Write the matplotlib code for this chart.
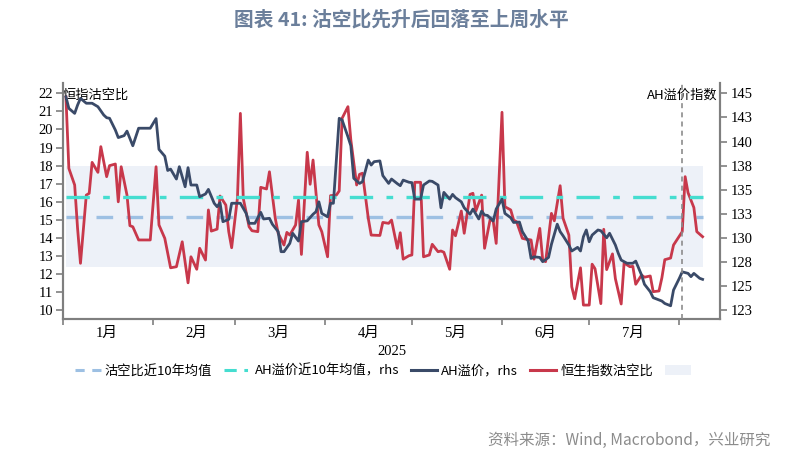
import numpy as np
import pandas as pd
import matplotlib
matplotlib.use("Agg")
import matplotlib.pyplot as plt
import matplotlib.dates as mdates
from matplotlib.lines import Line2D
from matplotlib.patches import Patch
from matplotlib.ticker import FixedLocator, FuncFormatter

plt.rcParams['font.family'] = ['Noto Sans CJK SC', 'DejaVu Sans']

# 恒生指数沽空比 (left axis)
ratio_dates = ["01-02", "01-03", "01-05", "01-06", "01-07", "01-09", "01-10", "01-11", "01-13", "01-14",
               "01-16", "01-17", "01-19", "01-20", "01-21", "01-23", "01-24", "01-25", "01-27", "01-31",
               "02-02", "02-03", "02-05", "02-07", "02-09", "02-11", "02-13", "02-14", "02-16", "02-17",
               "02-19", "02-20", "02-21", "02-23", "02-24", "02-26", "02-27", "02-28", "03-02", "03-03",
               "03-04", "03-06", "03-07", "03-09", "03-10", "03-12", "03-13", "03-15", "03-16", "03-18",
               "03-19", "03-20", "03-22", "03-23", "03-24", "03-26", "03-27", "03-28", "03-30", "03-31",
               "04-02", "04-03", "04-05", "04-06", "04-07", "04-09", "04-10", "04-12", "04-13", "04-14",
               "04-16", "04-17", "04-20", "04-21", "04-23", "04-24", "04-26", "04-27", "04-28", "04-30",
               "05-01", "05-02", "05-04", "05-05", "05-07", "05-08", "05-10", "05-11", "05-12", "05-14",
               "05-15", "05-16", "05-18", "05-19", "05-21", "05-22", "05-23", "05-25", "05-26", "05-28",
               "05-29", "05-30", "06-01", "06-02", "06-04", "06-05", "06-06", "06-08", "06-09", "06-11",
               "06-12", "06-14", "06-15", "06-16", "06-18", "06-19", "06-21", "06-22", "06-24", "06-25",
               "06-26", "06-28", "06-29", "07-01", "07-02", "07-03", "07-05", "07-06", "07-07", "07-09",
               "07-10", "07-12", "07-13", "07-15", "07-16", "07-17", "07-19", "07-20", "07-22", "07-23",
               "07-25", "07-26", "07-27", "07-29", "07-30", "08-01", "08-02", "08-03", "08-04", "08-06",
               "08-07", "08-09"]
short_ratio = [21.8, 17.85, 16.93, 14.53, 12.6, 16.37, 16.47, 18.18, 17.63, 19.05,
               17.39, 18.0, 18.09, 16.0, 17.94, 16.37, 14.68, 14.62, 13.89, 13.89,
               17.94, 14.72, 13.98, 12.35, 12.41, 13.79, 11.52, 12.96, 12.27, 13.43,
               12.78, 15.55, 14.38, 14.49, 16.32, 15.82, 14.35, 13.46, 16.23, 20.89,
               16.19, 14.62, 14.4, 14.35, 16.8, 16.71, 17.66, 15.09, 14.26, 13.61,
               14.31, 14.16, 14.72, 16.1, 13.09, 18.74, 16.97, 18.31, 14.72, 14.35,
               12.96, 16.34, 16.37, 16.6, 20.62, 21.26, 19.42, 16.93, 17.52, 17.58,
               15.09, 14.16, 14.14, 14.86, 14.81, 14.99, 13.43, 14.29, 12.83, 13.02,
               13.06, 17.08, 17.08, 12.96, 13.06, 13.65, 13.24, 13.28, 13.21, 12.27,
               14.44, 14.12, 15.49, 14.26, 16.41, 16.47, 15.49, 16.37, 13.43, 15.09,
               14.9, 13.7, 20.95, 15.73, 15.55, 14.99, 14.9, 13.98, 13.94, 13.89,
               12.83, 14.53, 12.78, 12.69, 15.36, 14.95, 16.89, 15.09, 14.16, 11.3,
               10.64, 12.35, 10.29, 10.29, 12.55, 12.3, 10.37, 14.48, 12.25, 13.12,
               11.75, 10.35, 12.62, 12.41, 12.43, 11.44, 11.95, 11.83, 11.9, 11.03,
               11.07, 11.8, 12.8, 12.89, 13.61, 14.1, 14.35, 17.39, 16.5, 15.68,
               14.35, 14.07]

# AH溢价指数 (right axis)
ah_dates = ["01-02", "01-03", "01-05", "01-06", "01-07", "01-09", "01-11", "01-13", "01-15", "01-16",
            "01-17", "01-19", "01-20", "01-22", "01-23", "01-25", "01-27", "01-31", "02-02", "02-03",
            "02-05", "02-06", "02-07", "02-09", "02-10", "02-12", "02-13", "02-14", "02-16", "02-17",
            "02-19", "02-20", "02-22", "02-23", "02-24", "02-25", "02-27", "02-28", "03-02", "03-03",
            "03-05", "03-06", "03-08", "03-10", "03-11", "03-13", "03-14", "03-16", "03-17", "03-18",
            "03-20", "03-21", "03-23", "03-24", "03-26", "03-28", "03-29", "03-30", "03-31", "04-02",
            "04-03", "04-04", "04-06", "04-07", "04-09", "04-10", "04-11", "04-13", "04-14", "04-16",
            "04-17", "04-18", "04-20", "04-21", "04-23", "04-24", "04-26", "04-27", "04-28", "04-30",
            "05-01", "05-02", "05-04", "05-05", "05-07", "05-08", "05-10", "05-11", "05-12", "05-14",
            "05-15", "05-16", "05-18", "05-19", "05-21", "05-22", "05-24", "05-25", "05-26", "05-27",
            "05-29", "05-30", "06-01", "06-02", "06-04", "06-05", "06-07", "06-08", "06-10", "06-11",
            "06-12", "06-14", "06-15", "06-17", "06-18", "06-20", "06-21", "06-22", "06-24", "06-25",
            "06-27", "06-28", "06-29", "06-30", "07-01", "07-02", "07-04", "07-05", "07-07", "07-08",
            "07-10", "07-11", "07-12", "07-14", "07-16", "07-17", "07-19", "07-20", "07-22", "07-23",
            "07-25", "07-26", "07-27", "07-29", "07-30", "08-01", "08-02", "08-04", "08-05", "08-06",
            "08-08", "08-09"]
ah_premium = [144.63, 143.44, 142.92, 143.78, 144.48, 143.97, 143.97, 143.61, 142.75, 142.47,
              142.41, 141.19, 140.41, 140.61, 141.08, 139.56, 141.38, 141.38, 142.38, 139.19,
              138.48, 137.0, 137.14, 136.11, 137.39, 135.31, 137.29, 135.49, 135.49, 134.28,
              134.56, 135.04, 133.6, 133.24, 133.66, 131.69, 131.93, 133.6, 133.6, 133.6,
              132.55, 131.52, 131.52, 132.66, 131.97, 132.04, 131.43, 130.66, 128.58, 128.58,
              129.44, 130.49, 129.68, 131.69, 131.78, 132.46, 132.72, 133.75, 132.55, 132.19,
              133.6, 133.6, 142.41, 142.23, 140.5, 139.56, 136.19, 135.66, 135.83, 138.08,
              137.56, 137.91, 137.99, 136.47, 135.66, 136.11, 135.63, 135.42, 136.0, 135.78,
              135.74, 134.03, 134.03, 135.49, 135.91, 135.87, 135.49, 133.13, 134.73, 134.03,
              134.52, 134.18, 133.75, 133.13, 132.46, 133.0, 131.97, 132.79, 132.38, 132.34,
              131.76, 133.0, 134.03, 132.55, 132.1, 131.61, 131.65, 130.66, 129.68, 127.88,
              128.05, 127.98, 127.54, 127.98, 129.34, 131.43, 130.66, 130.23, 129.27, 128.65,
              129.03, 128.65, 130.13, 130.83, 129.61, 130.3, 130.83, 130.75, 130.02, 130.49,
              129.27, 128.41, 127.71, 127.38, 127.38, 127.6, 126.16, 125.2, 124.43, 123.81,
              123.57, 123.46, 123.21, 122.97, 124.6, 125.82, 126.49, 126.33, 125.99, 126.33,
              125.82, 125.71]

ratio_mean = 15.17      # 沽空比近10年均值
ah_mean = 134.24        # AH溢价近10年均值
band_low, band_high = 12.42, 18.0
marker_date = "08-02"

month_labels = ["1月", "2月", "3月", "4月", "5月", "6月", "7月"]
left_ticks = list(range(10, 23))
right_ticks = [122.5 + 2.5 * i for i in range(10)]

rd = pd.to_datetime(["2025-" + d for d in ratio_dates])
ad = pd.to_datetime(["2025-" + d for d in ah_dates])

c_red = "#C8384B"
c_navy = "#3A4A68"
c_mean1 = "#9DC0E3"
c_mean2 = "#45DDD0"
c_band = "#EDF1F8"
c_axis = "#7F7F7F"

serif = ['Liberation Serif', 'Noto Sans CJK SC']

fig = plt.figure(figsize=(8.02, 4.58), dpi=100)
ax = fig.add_axes([0.0786, 0.3035, 0.8192, 0.5153])
ax2 = ax.twinx()

ax.fill_between([rd[0], rd[-1]], band_low, band_high, color=c_band, lw=0, zorder=0)
ax.plot([rd[0], rd[-1]], [ratio_mean, ratio_mean], color=c_mean1, lw=2.4,
        dashes=(5, 4), zorder=1)
ax.plot(rd, short_ratio, color=c_red, lw=2.0, zorder=2)

ax2.plot([rd[0], rd[-1]], [ah_mean, ah_mean], color=c_mean2, lw=2.4,
         dashes=(7, 4, 2, 4), zorder=1)
ax2.plot(ad, ah_premium, color=c_navy, lw=2.0, zorder=3)
ax2.axvline(pd.Timestamp("2025-" + marker_date), color="#8C8C8C", lw=1.2,
            dashes=(3, 2.5), zorder=4)

ax.set_xlim(pd.Timestamp("2025-01-01"), pd.Timestamp("2025-08-15"))
ax.set_ylim(9.52, 22.57)
ax2.set_ylim(121.6, 146.07)

ax.xaxis.set_major_locator(mdates.MonthLocator())
ax.xaxis.set_major_formatter(plt.NullFormatter())
mid = [mdates.date2num(pd.Timestamp(2025, m, 16)) for m in range(1, 8)]
ax.xaxis.set_minor_locator(FixedLocator(mid))
ax.xaxis.set_minor_formatter(FuncFormatter(lambda v, p: month_labels[p] if p < len(month_labels) else ""))
ax.tick_params(axis='x', which='major', direction='out', length=4, color=c_axis, width=1.2)
ax.tick_params(axis='x', which='minor', length=0, pad=6)
for lab in ax.get_xticklabels(minor=True):
    lab.set_family(serif)
    lab.set_fontsize(10.5)

ax.set_yticks(left_ticks)
ax.tick_params(axis='y', direction='out', length=5, color=c_axis, width=1.2, labelsize=10.5, pad=2)
for lab in ax.get_yticklabels():
    lab.set_family(serif)

ax2.set_yticks(right_ticks)
ax2.yaxis.set_major_formatter(FuncFormatter(lambda v, p: str(int(np.floor(v + 0.5)))))
ax2.tick_params(axis='y', direction='out', length=5, color=c_axis, width=1.2, labelsize=10.5, pad=3)
for lab in ax2.get_yticklabels():
    lab.set_family(serif)

for a in (ax, ax2):
    a.spines['top'].set_visible(False)
    for s in ('left', 'right', 'bottom'):
        a.spines[s].set_color(c_axis)
        a.spines[s].set_linewidth(1.5)

ax.set_xlabel("2025", family=serif, fontsize=10.5, labelpad=3)

ax.text(0.0, 0.975, "恒指沽空比", transform=ax.transAxes, fontsize=9.5, ha='left', va='top')
ax.text(0.997, 0.975, "AH溢价指数", transform=ax.transAxes, fontsize=9.5, ha='right', va='top')

fig.text(0.5, 0.958, "图表 41: 沽空比先升后回落至上周水平", ha='center', va='center',
         fontsize=14.2, fontweight='bold', color="#6B7F9B")
fig.text(0.96, 0.038, "资料来源：Wind, Macrobond，兴业研究", ha='right', va='center',
         fontsize=11.2, color="#8C8C8C")

handles = [
    Line2D([], [], color=c_mean1, lw=2.2, dashes=(3, 2.5)),
    Line2D([], [], color=c_mean2, lw=2.2, dashes=(4, 2.5, 1.2, 2.5)),
    Line2D([], [], color=c_navy, lw=2.2),
    Line2D([], [], color=c_red, lw=2.2),
    Patch(facecolor=c_band, edgecolor='none'),
]
labels = ["沽空比近10年均值", "AH溢价近10年均值，rhs", "AH溢价，rhs", "恒生指数沽空比", ""]
fig.legend(handles, labels, loc='center', bbox_to_anchor=(0.48, 0.19), ncol=5, frameon=False,
           fontsize=9.5, handlelength=2.0, handletextpad=0.3, columnspacing=0.9)

fig.savefig("out.png", dpi=100)
